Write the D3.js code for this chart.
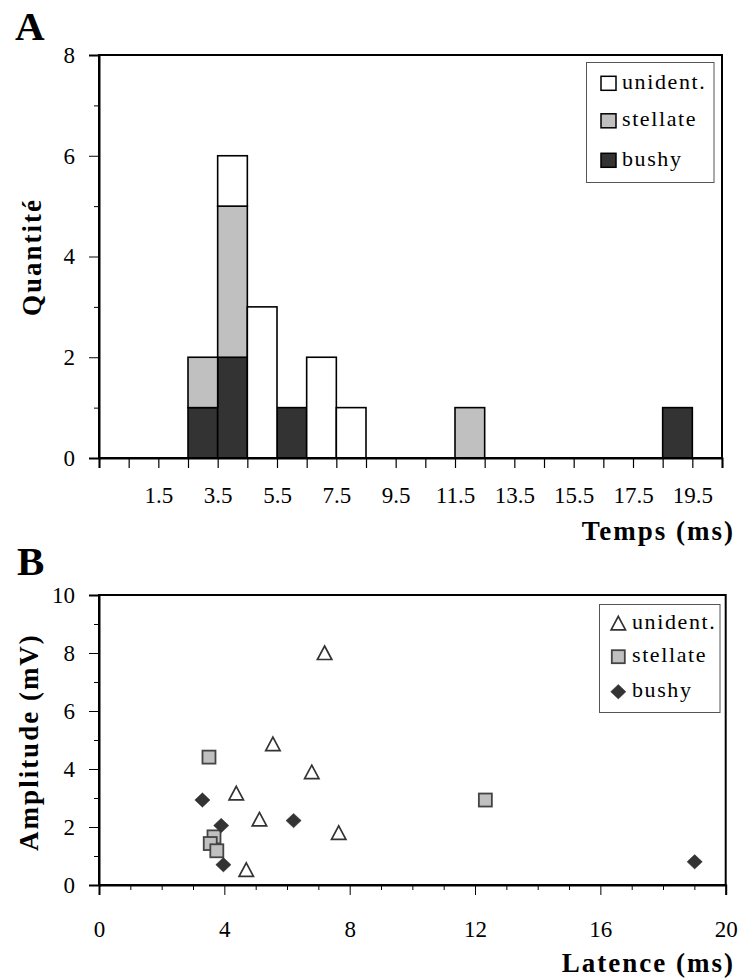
<!DOCTYPE html>
<html>
<head>
<meta charset="utf-8">
<script src="https://cdn.jsdelivr.net/npm/d3@7"></script>
<style>
  html, body { margin: 0; padding: 0; background: #fff; }
  svg { display: block; }
  text { font-family: "Liberation Serif", "Times New Roman", serif; fill: #000; }
</style>
</head>
<body>
<svg id="chart" width="738" height="978"></svg>
<script>
// ---------- Panel A data (histogram, bins centred on integers) ----------
const binCenters   = d3.range(0, 21);               // 0..20 ms
const bushyCounts    = [0,0,0,1,2,0,1,0,0,0,0,0,0,0,0,0,0,0,0,1,0];
const stellateCounts = [0,0,0,1,3,0,0,0,0,0,0,0,1,0,0,0,0,0,0,0,0];
const unidentCounts  = [0,0,0,0,1,3,0,2,1,0,0,0,0,0,0,0,0,0,0,0,0];
const histTickLabels = ["1.5","3.5","5.5","7.5","9.5","11.5","13.5","15.5","17.5","19.5"];
const histYTicks = [0,2,4,6,8];
const seriesNames = ["unident.","stellate","bushy"];

// ---------- Panel B data (scatter: latence ms, amplitude mV) ----------
const unidentPts  = [[7.2,8.0],[5.55,4.86],[6.79,3.89],[4.38,3.16],[5.12,2.26],[7.65,1.80],[4.70,0.52]];
const stellatePts = [[3.51,4.41],[3.67,1.66],[3.55,1.43],[3.76,1.18],[12.33,2.93]];
const bushyPts    = [[3.30,2.93],[3.90,2.05],[3.97,0.70],[6.21,2.22],[19.01,0.80]];
const scatXTicks = [0,4,8,12,16,20];
const scatYTicks = [0,2,4,6,8,10];

const colors = { unident: "#ffffff", stellate: "#c0c0c0", bushy: "#333333" };
const svg = d3.select("#chart");

// ================= PANEL A =================
(function(){
  const L = 99, R = 722, T = 55, B = 458;
  const x = d3.scaleLinear().domain([-0.5, 20.5]).range([L, R]);
  const y = d3.scaleLinear().domain([0, 8]).range([B, T]);
  const g = svg.append("g");

  const table = binCenters.map((c, i) => ({ c, bushy: bushyCounts[i], stellate: stellateCounts[i], unident: unidentCounts[i] }));
  const stack = d3.stack().keys(["bushy","stellate","unident"])(table);
  stack.forEach(layer => {
    g.append("g").selectAll("rect")
      .data(layer.filter(d => d[1] > d[0]))
      .join("rect")
      .attr("x", d => x(d.data.c - 0.5))
      .attr("width", d => x(d.data.c + 0.5) - x(d.data.c - 0.5))
      .attr("y", d => y(d[1]))
      .attr("height", d => y(d[0]) - y(d[1]))
      .attr("fill", colors[layer.key])
      .attr("stroke", "#000").attr("stroke-width", 1.6);
  });

  g.append("rect").attr("x", L).attr("y", T).attr("width", R - L).attr("height", B - T)
    .attr("fill", "none").attr("stroke", "#000").attr("stroke-width", 2);

  const ya = g.append("g").attr("transform", `translate(${L},0)`)
    .call(d3.axisLeft(y).tickValues(histYTicks).tickSize(10).tickPadding(14).tickFormat(d3.format("d")));
  g.append("g").attr("transform", `translate(${L},0)`)
    .call(d3.axisLeft(y).tickValues([1,3,5,7]).tickSize(5).tickFormat(""))
    .select(".domain").remove();
  ya.select(".domain").attr("stroke-width", 2);
  ya.selectAll("text").attr("font-size", 23);

  const allTicks = d3.range(-0.5, 20.6, 1);
  const xa = g.append("g").attr("transform", `translate(0,${B})`)
    .call(d3.axisBottom(x).tickValues(allTicks).tickSize(10)
      .tickFormat(d => { const s = d3.format(".1f")(d); return histTickLabels.includes(s) ? s : ""; }));
  xa.select(".domain").attr("stroke-width", 2);
  xa.selectAll("text").attr("font-size", 23).attr("dy", null).attr("y", 45);
  xa.selectAll("line").attr("stroke-width", 1.2);

  svg.append("text").attr("x", 15).attr("y", 40).attr("font-size", 41).attr("font-weight", "bold").text("A");
  svg.append("text").attr("transform", "translate(41,257) rotate(-90)").attr("text-anchor", "middle")
    .attr("font-size", 27).attr("font-weight", "bold").attr("letter-spacing", 2).text("Quantité");
  svg.append("text").attr("x", 735).attr("y", 540).attr("text-anchor", "end")
    .attr("font-size", 27).attr("font-weight", "bold").attr("letter-spacing", 2).text("Temps (ms)");

  const lg = g.append("g");
  lg.append("rect").attr("x", 586.5).attr("y", 62.5).attr("width", 127.5).attr("height", 120)
    .attr("fill", "#fff").attr("stroke", "#555").attr("stroke-width", 1);
  const keys = ["unident","stellate","bushy"];
  const rowsY = [83.3, 120.8, 160.3];
  keys.forEach((k, i) => {
    lg.append("rect").attr("x", 601).attr("y", rowsY[i] - 7).attr("width", 15).attr("height", 14)
      .attr("fill", colors[k]).attr("stroke", "#000").attr("stroke-width", 1.5);
    lg.append("text").attr("x", 622).attr("y", rowsY[i] + 5.5).attr("font-size", 22)
      .attr("letter-spacing", 1.6).text(seriesNames[i]);
  });
})();

// ================= PANEL B =================
(function(){
  const L = 99, R = 725.7, T = 595, B = 885;
  const x = d3.scaleLinear().domain([0, 20]).range([L, R]);
  const y = d3.scaleLinear().domain([0, 10]).range([B, T]);
  const g = svg.append("g");

  g.append("rect").attr("x", L).attr("y", T).attr("width", R - L).attr("height", B - T)
    .attr("fill", "none").attr("stroke", "#000").attr("stroke-width", 2);

  const ya = g.append("g").attr("transform", `translate(${L},0)`)
    .call(d3.axisLeft(y).tickValues(scatYTicks).tickSize(10).tickPadding(14).tickFormat(d3.format("d")));
  g.append("g").attr("transform", `translate(${L},0)`)
    .call(d3.axisLeft(y).tickValues([1,3,5,7,9]).tickSize(5).tickFormat(""))
    .select(".domain").remove();
  ya.select(".domain").attr("stroke-width", 2);
  ya.selectAll("text").attr("font-size", 23);

  const xa = g.append("g").attr("transform", `translate(0,${B})`)
    .call(d3.axisBottom(x).tickValues(scatXTicks).tickSize(10).tickFormat(d3.format("d")));
  g.append("g").attr("transform", `translate(0,${B})`)
    .call(d3.axisBottom(x).tickValues(d3.range(1, 20).filter(v => v % 4 !== 0)).tickSize(5).tickFormat(""))
    .select(".domain").remove();
  xa.select(".domain").attr("stroke-width", 2);
  xa.selectAll("text").attr("font-size", 23).attr("dy", null).attr("y", 52);

  // marker shapes (relative to the data point)
  const triPath = "M0,-7.5 L7.2,6 L-7.2,6 Z";
  const diaPath = "M0,-7.2 L7.6,0 L0,7.2 L-7.6,0 Z";
  const sq = 13;

  function drawTri(sel, px, py) {
    sel.append("path").attr("d", triPath).attr("transform", `translate(${px},${py + 0.5})`)
      .attr("fill", "#fff").attr("stroke", "#333").attr("stroke-width", 1.7).attr("stroke-linejoin", "miter");
  }
  function drawSq(sel, px, py) {
    sel.append("rect").attr("x", px - sq/2).attr("y", py - sq/2).attr("width", sq).attr("height", sq)
      .attr("fill", "#c0c0c0").attr("stroke", "#444").attr("stroke-width", 1.8);
  }
  function drawDia(sel, px, py) {
    sel.append("path").attr("d", diaPath).attr("transform", `translate(${px},${py})`)
      .attr("fill", "#333").attr("stroke", "#333").attr("stroke-width", 0.5);
  }

  const pg = g.append("g");
  unidentPts.forEach(p => drawTri(pg, x(p[0]), y(p[1])));
  stellatePts.forEach(p => drawSq(pg, x(p[0]), y(p[1])));
  bushyPts.forEach(p => drawDia(pg, x(p[0]), y(p[1])));

  svg.append("text").attr("x", 17).attr("y", 575).attr("font-size", 41).attr("font-weight", "bold").text("B");
  svg.append("text").attr("transform", "translate(38,742) rotate(-90)").attr("text-anchor", "middle")
    .attr("font-size", 27).attr("font-weight", "bold").attr("letter-spacing", 2).text("Amplitude (mV)");
  svg.append("text").attr("x", 735).attr("y", 972).attr("text-anchor", "end")
    .attr("font-size", 27).attr("font-weight", "bold").attr("letter-spacing", 2).text("Latence (ms)");

  const lg = g.append("g");
  lg.append("rect").attr("x", 599.5).attr("y", 604.5).attr("width", 120.5).attr("height", 108)
    .attr("fill", "#fff").attr("stroke", "#555").attr("stroke-width", 1);
  const rowsY = [623.3, 656.7, 691.7];
  drawTri(lg, 618.3, rowsY[0]);
  drawSq(lg, 618.3, rowsY[1]);
  drawDia(lg, 618.3, rowsY[2]);
  seriesNames.forEach((n, i) => {
    lg.append("text").attr("x", 632).attr("y", rowsY[i] + 5.5).attr("font-size", 22)
      .attr("letter-spacing", 1.6).text(n);
  });
})();
</script>
</body>
</html>
